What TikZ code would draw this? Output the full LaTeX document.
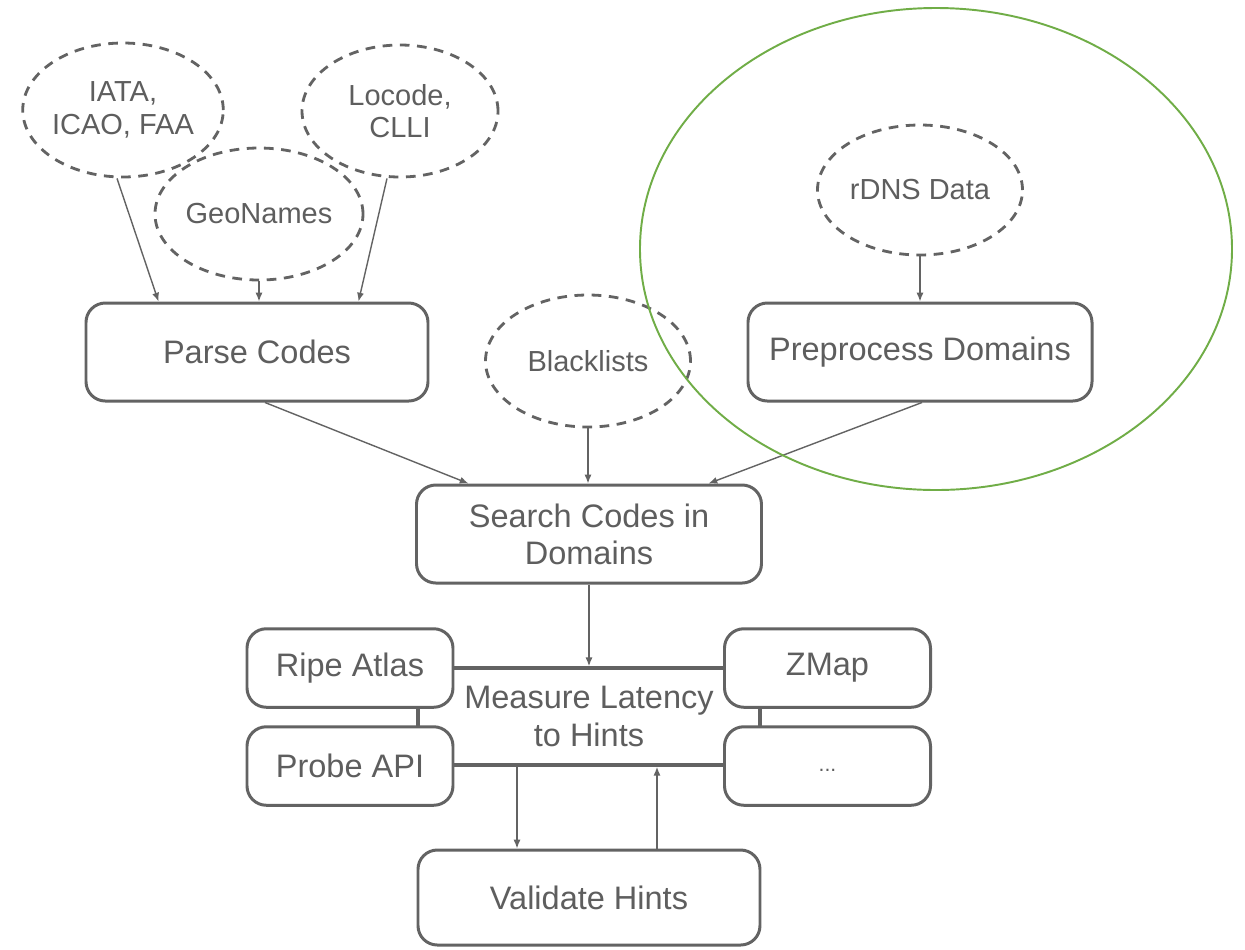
\documentclass[tikz,border=0pt]{standalone}
\usepackage{fontspec}
\setmainfont{Liberation Sans}
\usetikzlibrary{shapes.geometric,arrows.meta,calc}
\definecolor{edgegray}{HTML}{636363}
\definecolor{textgray}{HTML}{5E5E5E}
\definecolor{markgreen}{HTML}{70AD47}
\tikzset{
  source/.style={ellipse, draw=edgegray, line width=1.6pt, dash pattern=on 5.5pt off 4.3pt,
    inner sep=0pt, text=textgray, align=center, minimum width=4.1cm, minimum height=2.64cm,
    font=\fontsize{16.5}{18.5}\selectfont},
  stepbox/.style={rectangle, rounded corners=11pt, draw=edgegray, line width=1.7pt, fill=white,
    inner sep=0pt, text=textgray, align=center, minimum width=6.84cm, minimum height=1.96cm,
    font=\fontsize{18.5}{21}\selectfont},
  toolbox/.style={stepbox, minimum width=4.12cm, minimum height=1.57cm},
  arr/.style={draw=edgegray, line width=0.8pt, -{Latex[length=5pt,width=4pt]}}
}
\begin{document}
\begin{tikzpicture}
\useasboundingbox (0,0) rectangle (24.9,-18.98);

% data sources
\node[source, minimum width=3.92cm, minimum height=2.68cm] (iata) at (2.46,-2.20) {IATA,\\ICAO, FAA};
\node[source, minimum width=3.92cm] (locode) at (8.0,-2.22) {Locode,\\CLLI};
\node[source, minimum width=4.16cm] (geo) at (5.18,-4.28) {GeoNames};
\node[source] (black) at (11.76,-7.22) {Blacklists};
\node[source, minimum height=2.6cm] (rdns) at (18.4,-3.8) {rDNS Data};

% processing steps
\node[stepbox] (parse) at (5.14,-7.04) {Parse Codes};
\node[stepbox, minimum width=6.88cm] (prep) at (18.4,-7.04) {\raisebox{-0.1cm}{Preprocess Domains}};
\node[stepbox, minimum width=6.9cm] (search) at (11.78,-10.68) {Search Codes in\\Domains};

% measurement stage with its probing platforms
\node[rectangle, draw=edgegray, line width=2pt, inner sep=0pt, text=textgray, align=center,
  minimum width=6.84cm, minimum height=1.94cm, font=\fontsize{18.5}{21.5}\selectfont]
  (measure) at (11.78,-14.33) {Measure Latency\\to Hints};
\node[toolbox] (ripe) at (7.0,-13.36) {Ripe Atlas};
\node[toolbox] (probe) at (7.0,-15.32) {Probe API};
\node[toolbox] (zmap) at (16.55,-13.36) {ZMap};
\node[toolbox] (more) at (16.55,-15.32) {\raisebox{-0.2cm}{\fontsize{12}{14}\selectfont ...}};

\node[stepbox, minimum height=1.9cm] (valid) at (11.78,-17.95) {Validate Hints};

% connectors
\draw[arr] ($(iata.south)+(-0.12,0)$) -- ($(parse.north west)+(1.48,0)$);
\draw[arr] (geo.south) -- (geo.south |- parse.north);
\draw[arr] ($(locode.south)+(-0.26,0)$) -- ($(parse.north east)+(-1.42,0)$);
\draw[arr] (rdns.south) -- (rdns.south |- prep.north);
\draw[arr] ($(parse.south)+(0.16,0)$) -- ($(search.north west)+(1.07,0)$);
\draw[arr] (black.south) -- (black.south |- search.north);
\draw[arr] ($(prep.south)+(0.04,0)$) -- ($(search.north east)+(-1.09,0)$);
\draw[arr] (search.south) -- (measure.north);
\draw[arr] ($(measure.south)+(-1.44,0)$) -- ($(valid.north)+(-1.44,0)$);
\draw[arr] ($(valid.north)+(1.36,0)$) -- ($(measure.south)+(1.36,0)$);

% highlighted region around the reverse-DNS input
\draw[markgreen, line width=1.1pt] (18.72,-4.98) ellipse [x radius=5.92cm, y radius=4.82cm];
\end{tikzpicture}
\end{document}
